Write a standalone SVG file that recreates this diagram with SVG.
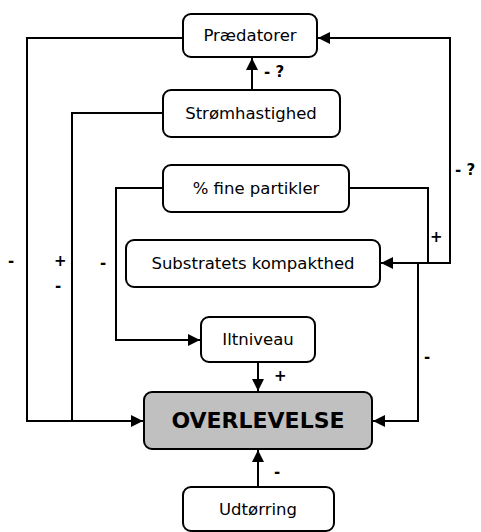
<svg xmlns="http://www.w3.org/2000/svg" width="481" height="532" viewBox="0 0 481 532">
<style>
.box{fill:#fff;stroke:#000;stroke-width:2}
.main{fill:#c0c0c0;stroke:#000;stroke-width:2}
.t{font-family:"DejaVu Sans",Verdana,sans-serif;font-size:16.5px;text-anchor:middle;fill:#000}
.tb{font-family:"DejaVu Sans",Verdana,sans-serif;font-size:22px;font-weight:bold;text-anchor:middle;fill:#000}
.l{font-family:"DejaVu Sans",Verdana,sans-serif;font-size:15px;font-weight:bold;fill:#000}
.c{fill:none;stroke:#000;stroke-width:2}
</style>
<defs>
<marker id="a" viewBox="0 0 12 12" refX="12" refY="6" markerWidth="12" markerHeight="12" markerUnits="userSpaceOnUse" orient="auto">
<path d="M0,0 L12,6 L0,12 Z" fill="#000"/>
</marker>
</defs>
<g id="connectors">
<polyline class="c" points="183,38 27,38 27,421 143,421" marker-end="url(#a)"/>
<polyline class="c" points="163,113 72,113 72,421"/>
<line class="c" x1="252" y1="90" x2="252" y2="58" marker-end="url(#a)"/>
<polyline class="c" points="418,263 450,263 450,38 318,38" marker-end="url(#a)"/>
<polyline class="c" points="349,188 428,188 428,263 381,263" marker-end="url(#a)"/>
<polyline class="c" points="163,188 116,188 116,340 200,340" marker-end="url(#a)"/>
<polyline class="c" points="418,263 418,421 373,421" marker-end="url(#a)"/>
<line class="c" x1="258" y1="362" x2="258" y2="391" marker-end="url(#a)"/>
<line class="c" x1="258" y1="487" x2="258" y2="450" marker-end="url(#a)"/>
<text class="l" x="264" y="77">- ?</text>
<text class="l" x="455" y="175">- ?</text>
<text class="l" x="430" y="242">+</text>
<text class="l" x="424" y="362">-</text>
<text class="l" x="274" y="381">+</text>
<text class="l" x="274" y="477">-</text>
<text class="l" x="8" y="266">-</text>
<text class="l" x="54" y="266">+</text>
<text class="l" x="55" y="291">-</text>
<text class="l" x="100" y="268">-</text>
</g>
<g id="praedatorer">
<rect class="box" x="183" y="14" width="134" height="43" rx="8"/>
<text class="t" x="250" y="41">Prædatorer</text>
</g>
<g id="stromhastighed">
<rect class="box" x="163" y="90" width="177" height="47" rx="8"/>
<text class="t" x="251" y="119">Strømhastighed</text>
</g>
<g id="fine-partikler">
<rect class="box" x="163" y="165" width="186" height="47" rx="8"/>
<text class="t" x="256" y="194">% fine partikler</text>
</g>
<g id="substratets">
<rect class="box" x="126" y="240" width="254" height="47" rx="8"/>
<text class="t" x="253" y="269">Substratets kompakthed</text>
</g>
<g id="iltniveau">
<rect class="box" x="201" y="317" width="114" height="45" rx="8"/>
<text class="t" x="258" y="345">Iltniveau</text>
</g>
<g id="overlevelse">
<rect class="main" x="144" y="392" width="228" height="57" rx="8"/>
<text class="tb" x="258" y="428">OVERLEVELSE</text>
</g>
<g id="udtorring">
<rect class="box" x="183" y="487" width="151" height="44" rx="8"/>
<text class="t" x="258" y="515">Udtørring</text>
</g>
</svg>
